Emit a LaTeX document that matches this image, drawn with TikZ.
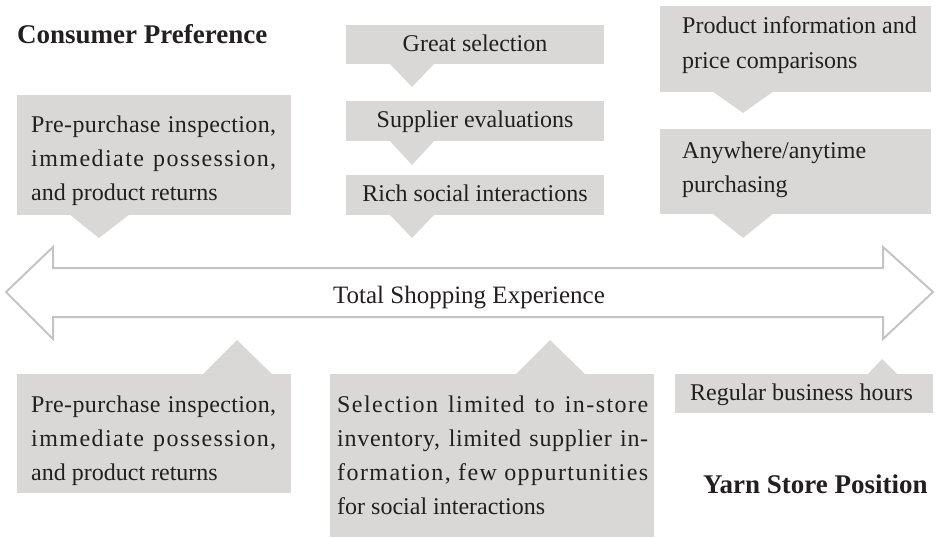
\documentclass[tikz,border=0pt]{standalone}
\usepackage{fontspec}
\setmainfont{Liberation Serif}
\newfontfamily\slightserif{Liberation Serif}[LetterSpace=1.5]
\newfontfamily\looseserif{Liberation Serif}[LetterSpace=3]
\newfontfamily\wideserif{Liberation Serif}[LetterSpace=6]
\definecolor{ink}{HTML}{231F20}
\definecolor{boxgray}{HTML}{D9D8D7}
\definecolor{arrowgray}{HTML}{C4C4C4}

\begin{document}
\begin{tikzpicture}[x=1pt,y=-1pt,
  callout/.style={fill=boxgray},
  bigarrow/.style={draw=arrowgray, line width=2pt, line join=miter},
  body/.style={anchor=base west, inner sep=0pt, text=ink,
    font=\fontsize{24}{34}\selectfont},
  bodyc/.style={body, anchor=base},
  heading/.style={anchor=base west, inner sep=0pt, text=ink,
    font=\fontsize{27}{30}\selectfont\bfseries}]
\useasboundingbox (0,0) rectangle (938,538);

% ---- consumer-preference callouts (pointing down) ----
\fill[callout] (17,95) rectangle (291,215);
\fill[callout] (69,214) -- (99,238) -- (130,214) -- cycle;

\fill[callout] (346,25) rectangle (604,64);
\fill[callout] (389,63) -- (412,87) -- (435,63) -- cycle;
\fill[callout] (346,101) rectangle (604,141);
\fill[callout] (389,140) -- (412,165) -- (435,140) -- cycle;
\fill[callout] (346,175) rectangle (604,215);
\fill[callout] (389,214) -- (412,238) -- (435,214) -- cycle;

\fill[callout] (660,6) rectangle (931,92);
\fill[callout] (712,91) -- (743,113) -- (774,91) -- cycle;
\fill[callout] (660,129) rectangle (931,214);
\fill[callout] (712,213) -- (743,238) -- (774,213) -- cycle;

% ---- yarn-store callouts (pointing up) ----
\fill[callout] (17,374) rectangle (291,493);
\fill[callout] (202,375) -- (237,340) -- (273,375) -- cycle;
\fill[callout] (330,374) rectangle (654,537);
\fill[callout] (515,375) -- (550,340) -- (586,375) -- cycle;
\fill[callout] (675,374) rectangle (933,413);
\fill[callout] (867,375) -- (882,359) -- (898,375) -- cycle;

% ---- double-headed outline arrow ----
\draw[bigarrow] (6,292) -- (53,247) -- (53,268) -- (883,268) -- (883,247)
  -- (933,292) -- (883,339) -- (883,317) -- (53,317) -- (53,339) -- cycle;
\node[bodyc, font=\fontsize{25}{34}\selectfont] (axis) at (469,303) {Total Shopping Experience};

% ---- headings ----
\node[heading] (pref) at (17,43) {Consumer Preference};
\node[heading] (yarn) at (703,493) {Yarn Store Position};

% ---- texts above the arrow ----
\node[body] (tl1) at (31,132) {\slightserif\makebox[245pt][s]{Pre-purchase inspection,}};
\node[body] (tl2) at (31,166) {\wideserif\makebox[245pt][s]{immediate possession,}};
\node[body] (tl3) at (31,200) {and product returns};

\node[bodyc] (sel) at (475,51) {Great selection};
\node[bodyc] (sup) at (475,127) {Supplier evaluations};
\node[bodyc] (soc) at (475,201) {Rich social interactions};

\node[body] (tr1) at (682,34) {Product information and};
\node[body] (tr2) at (682,68) {price comparisons};
\node[body] (tr3) at (682,158) {Anywhere/anytime};
\node[body] (tr4) at (682,192) {purchasing};

% ---- texts below the arrow ----
\node[body] (bl1) at (31,412) {\slightserif\makebox[245pt][s]{Pre-purchase inspection,}};
\node[body] (bl2) at (31,446) {\wideserif\makebox[245pt][s]{immediate possession,}};
\node[body] (bl3) at (31,480) {and product returns};

\node[body] (bm1) at (337,412) {\wideserif\makebox[311pt][s]{Selection limited to in-store}};
\node[body] (bm2) at (337,446) {\looseserif\makebox[311pt][s]{inventory, limited supplier in-}};
\node[body] (bm3) at (337,480) {\wideserif\makebox[311pt][s]{formation, few oppurtunities}};
\node[body] (bm4) at (337,514) {for social interactions};

\node[body] (br1) at (690,400) {Regular business hours};
\end{tikzpicture}
\end{document}
